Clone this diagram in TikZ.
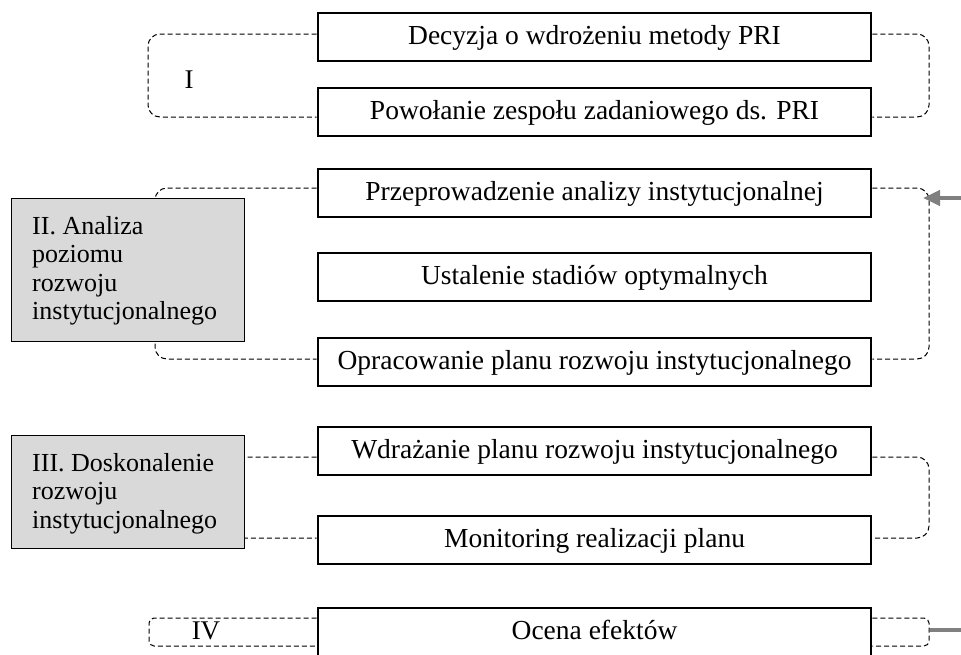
\documentclass[tikz,border=0pt]{standalone}
\usepackage{fontspec}
\setmainfont{Liberation Serif}
\usetikzlibrary{arrows.meta}
\definecolor{grayfill}{RGB}{217,217,217}
\definecolor{arrowgray}{RGB}{128,128,128}
\begin{document}
\begin{tikzpicture}[x=1pt,y=-1pt,
  stepbox/.style={draw, line width=2.6pt, minimum width=553pt, minimum height=48pt, inner sep=0pt, text height=19pt, text depth=4pt, font=\fontsize{27.5}{32}\selectfont},
  phasebox/.style={draw, line width=1.3pt, fill=grayfill, minimum width=233pt, inner sep=0pt},
  phasetext/.style={anchor=north west, inner sep=0pt, align=left, font=\fontsize{26}{28.5}\selectfont},
  roman/.style={inner sep=0pt, font=\fontsize{27}{32}\selectfont},
  bracket/.style={dash pattern=on 5pt off 3pt, line width=1pt, rounded corners=12pt},
  smallbracket/.style={bracket, rounded corners=5pt},
  grayarrow/.style={draw=arrowgray, line width=4pt},
]
\clip (0,0) rectangle (961,654);
% main steps
\node[stepbox] (b1) at (594.5,37) {Decyzja o wdrożeniu metody PRI};
\node[stepbox] (b2) at (594.5,112) {Powołanie zespołu zadaniowego ds. PRI};
\node[stepbox] (b3) at (594.5,193) {Przeprowadzenie analizy instytucjonalnej};
\node[stepbox] (b4) at (594.5,277) {Ustalenie stadiów optymalnych};
\node[stepbox] (b5) at (594.5,362) {Opracowanie planu rozwoju instytucjonalnego};
\node[stepbox] (b6) at (594.5,451) {Wdrażanie planu rozwoju instytucjonalnego};
\node[stepbox] (b7) at (594.5,540) {Monitoring realizacji planu};
\node[stepbox] (b8) at (594.5,632) {Ocena efektów};
% phase I brackets
\draw[bracket] ([yshift=3pt]b1.west) -- (148,34) -- (148,117) -- ([yshift=-5pt]b2.west);
\draw[bracket] ([yshift=3pt]b1.east) -- (929,34) -- (929,117) -- ([yshift=-5pt]b2.east);
\node[roman] (lI) at (189,80) {I};
% phase II brackets
\draw[bracket] ([yshift=5pt]b3.west) -- (155,188) -- (155,359) -- ([yshift=3pt]b5.west);
\draw[bracket] ([yshift=5pt]b3.east) -- (929,188) -- (929,359) -- ([yshift=3pt]b5.east);
% phase III brackets
\draw[bracket] ([yshift=-6pt]b6.west) -- (155,457) -- (155,538) -- ([yshift=2pt]b7.west);
\draw[bracket] ([yshift=-6pt]b6.east) -- (929,457) -- (929,538) -- ([yshift=2pt]b7.east);
% phase IV brackets
\draw[smallbracket] ([yshift=14pt]b8.west) -- (149,618) -- (149,646) -- ([yshift=-14pt]b8.west);
\draw[smallbracket] ([yshift=14pt]b8.east) -- (929,618) -- (929,646) -- ([yshift=-14pt]b8.east);
\node[roman] (lIV) at (206,631) {IV};
% phase boxes
\node[phasebox, minimum height=143pt] (g2) at (128,270) {};
\node[phasetext] (t2) at (32,216) {II. Analiza\\poziomu\\rozwoju\\instytucjonalnego};
\node[phasebox, minimum height=113pt] (g3) at (128,492) {};
\node[phasetext] (t3) at (32,453) {III. Doskonalenie\\rozwoju\\instytucjonalnego};
% gray arrows
\coordinate (atail) at (961,198);
\coordinate (atip) at (923,198);
\draw[grayarrow, -{Triangle[length=17pt,width=15pt]}] (atail) -- (atip);
\coordinate (ltail) at (961,630);
\coordinate (lend) at (930,630);
\draw[grayarrow] (ltail) -- (lend);
\end{tikzpicture}
\end{document}
